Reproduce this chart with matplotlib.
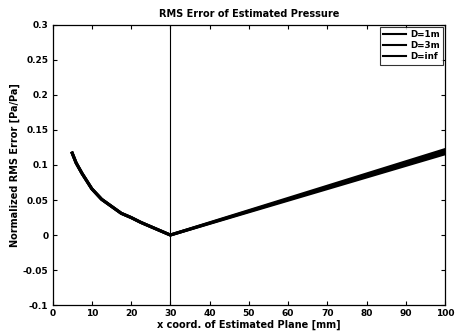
import matplotlib
matplotlib.use("Agg")
import matplotlib.pyplot as plt
import numpy as np

# Data
x_left = [5, 6, 7.5, 10, 12.5, 15, 17.5, 20, 22.5, 25, 27.5, 30]
y_left = [0.117, 0.103, 0.088, 0.066, 0.051, 0.041, 0.031, 0.025, 0.018, 0.012, 0.006, 0.0]
x_right = [30, 100]
y_right_1m = [0.0, 0.116]
y_right_3m = [0.0, 0.119]
y_right_inf = [0.0, 0.122]
labels = ["D=1m", "D=3m", "D=inf"]

x_vals = x_left + x_right[1:]
series = [y_left + [y_right_1m[1]], y_left + [y_right_3m[1]], y_left + [y_right_inf[1]]]

xticks = [0, 10, 20, 30, 40, 50, 60, 70, 80, 90, 100]
yticks = [-0.1, -0.05, 0, 0.05, 0.1, 0.15, 0.2, 0.25, 0.3]
yticklabels = ["-0.1", "-0.05", "0", "0.05", "0.1", "0.15", "0.2", "0.25", "0.3"]

plt.rcParams['font.family'] = 'DejaVu Sans'
fig = plt.figure(figsize=(4.57, 3.36), dpi=100)
ax = fig.add_axes([0.115, 0.092, 0.859, 0.834])

for ys, lab in zip(series, labels):
    ax.plot(x_vals, ys, color='black', lw=2.2, label=lab)

ax.axvline(30, color='black', lw=0.8)

ax.set_xlim(0, 100)
ax.set_ylim(-0.1, 0.3)
ax.set_xticks(xticks)
ax.set_xticklabels([str(t) for t in xticks], fontsize=6.5, fontweight='bold')
ax.set_yticks(yticks)
ax.set_yticklabels(yticklabels, fontsize=6.5, fontweight='bold')
ax.tick_params(direction='in', top=True, right=True, length=3, width=0.8, pad=3)
for s in ax.spines.values():
    s.set_linewidth(0.9)

ax.set_title("RMS Error of Estimated Pressure", fontsize=7, fontweight='bold', pad=6)
ax.set_xlabel("x coord. of Estimated Plane [mm]", fontsize=7, fontweight='bold', labelpad=1)
ax.set_ylabel("Normalized RMS Error [Pa/Pa]", fontsize=7, fontweight='bold', labelpad=2)

leg = ax.legend(loc='upper right', prop={'weight': 'bold', 'size': 6.3},
                frameon=True, fancybox=False, edgecolor='black', handlelength=2.6,
                borderpad=0.35, labelspacing=0.25, handletextpad=0.5,
                borderaxespad=0.25)
leg.get_frame().set_linewidth(0.8)
for l in leg.get_lines():
    l.set_linewidth(1.5)

fig.savefig("out.png", dpi=100)
